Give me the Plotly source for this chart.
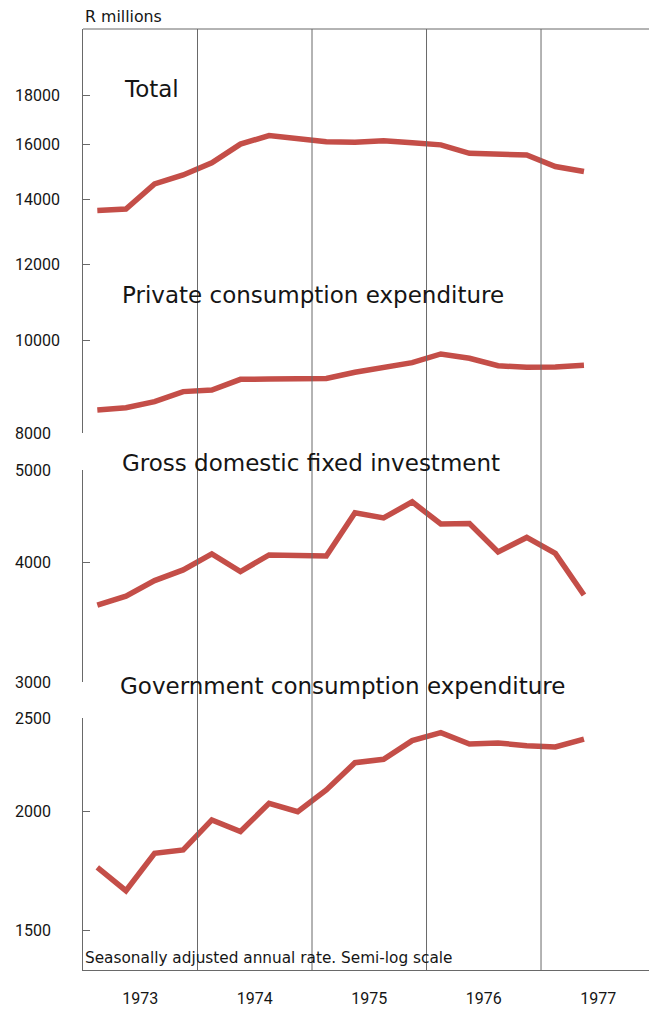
import numpy as np
import plotly.graph_objects as go

# ---------------- data ----------------
quarters = ["1973Q1", "1973Q2", "1973Q3", "1973Q4",
            "1974Q1", "1974Q2", "1974Q3", "1974Q4",
            "1975Q1", "1975Q2", "1975Q3", "1975Q4",
            "1976Q1", "1976Q2", "1976Q3", "1976Q4",
            "1977Q1", "1977Q2"]

total = [13640, 13690, 14540, 14860, 15300, 16000, 16330, 16220, 16090,
         16070, 16130, 16050, 15970, 15650, 15620, 15590, 15160, 14980]
private_consumption = [8455, 8500, 8625, 8835, 8870, 9100, 9105, 9120, 9120,
                       9255, 9360, 9470, 9670, 9570, 9400, 9365, 9375, 9410]
gross_fixed_investment = [3610, 3690, 3830, 3930, 4085, 3915, 4075, 4065, 4065,
                          4510, 4455, 4630, 4390, 4395, 4105, 4250, 4090, 3700]
government_consumption = [1747, 1652, 1807, 1822, 1958, 1904, 2037, 1997, 2104,
                          2246, 2264, 2368, 2414, 2349, 2355, 2339, 2332, 2377]

year_boundaries = [1974, 1975, 1976, 1977]
year_labels = ["1973", "1974", "1975", "1976", "1977"]

ticks_upper = [18000, 16000, 14000, 12000, 10000, 8000]
ticks_investment = [5000, 4000, 3000]
ticks_government = [2500, 2000, 1500]

panel_titles = ["Total", "Private consumption expenditure",
                "Gross domestic fixed investment",
                "Government consumption expenditure"]

# ---------------- helpers ----------------
def q_to_x(q):
    y, n = q.split("Q")
    return int(y) + (int(n) - 0.5) / 4.0

xq = [q_to_x(q) for q in quarters]
year_centres = [int(y) + 0.5 for y in year_labels]

W, H = 649, 1009
ML, MR, MT, MB = 83, 0, 29, 39
PH = H - MT - MB

def py(pix):
    return (H - MB - pix) / PH

def px(pix):
    return (pix - ML) / (W - ML - MR)

LINE = "rgb(196,78,72)"
GRID = "rgb(105,105,105)"
TXT = "#151515"
LABEL_FONT = "DejaVu Sans"
NUM_FONT = "Roboto, Liberation Sans, sans-serif"

fig = go.Figure()
for vals, ax in [(total, "y"), (private_consumption, "y"),
                 (gross_fixed_investment, "y2"), (government_consumption, "y3")]:
    fig.add_trace(go.Scatter(x=xq, y=vals, xaxis="x", yaxis=ax, mode="lines",
                             line=dict(color=LINE, width=5.5),
                             showlegend=False, hoverinfo="x+y"))

yax_common = dict(type="log", showgrid=False, zeroline=False, showline=True,
                  linecolor=GRID, linewidth=1, ticks="inside", ticklen=7,
                  tickcolor=GRID, tickwidth=1, showticklabels=False,
                  anchor="x", fixedrange=True)

fig.update_layout(
    width=W, height=H,
    margin=dict(l=ML, r=MR, t=MT, b=MB),
    paper_bgcolor="white", plot_bgcolor="white",
    xaxis=dict(range=[1973, 1977.943], showgrid=False, zeroline=False,
               showline=True, linecolor=GRID, linewidth=1, anchor="y3",
               tickvals=year_centres, ticktext=year_labels, ticks="",
               tickfont=dict(family=NUM_FONT, size=16, color=TXT),
               ticklabelstandoff=14, fixedrange=True),
    yaxis=dict(domain=[py(433), 1.0],
               range=[np.log10(8000), np.log10(21089)],
               tickvals=ticks_upper, **yax_common),
    yaxis2=dict(domain=[py(682), py(470)],
                range=[np.log10(3000), np.log10(5000)],
                tickvals=ticks_investment, **yax_common),
    yaxis3=dict(domain=[0, py(718)],
                range=[np.log10(1366), np.log10(2500)],
                tickvals=ticks_government, **yax_common),
)

# vertical year lines and top border
for yb in year_boundaries:
    fig.add_shape(type="line", xref="x", yref="paper", x0=yb, x1=yb, y0=0, y1=1,
                  line=dict(color=GRID, width=1))
fig.add_shape(type="line", xref="paper", yref="paper", x0=0, x1=1, y0=1, y1=1,
              line=dict(color=GRID, width=1))

# y tick labels (left aligned)
for ticks, ref in [(ticks_upper, "y"), (ticks_investment, "y2"), (ticks_government, "y3")]:
    for t in ticks:
        fig.add_annotation(text=f"{t}", xref="paper", x=px(13), xanchor="left",
                           yref=ref, y=float(np.log10(t)), yanchor="middle",
                           showarrow=False,
                           font=dict(family=NUM_FONT, size=16, color=TXT))

# panel titles
title_pos = [(122, 89), (120, 295), (120, 463), (118, 686)]
for t, (xx, yy) in zip(panel_titles, title_pos):
    fig.add_annotation(text=t, xref="paper", x=px(xx), xanchor="left",
                       yref="paper", y=py(yy), yanchor="middle", showarrow=False,
                       font=dict(family=LABEL_FONT, size=23, color=TXT))

fig.add_annotation(text="R millions", xref="paper", x=px(83), xanchor="left",
                   yref="paper", y=py(17), yanchor="middle", showarrow=False,
                   font=dict(family=LABEL_FONT, size=15.8, color=TXT))
fig.add_annotation(text="Seasonally adjusted annual rate. Semi-log scale",
                   xref="paper", x=px(83), xanchor="left",
                   yref="paper", y=py(958), yanchor="middle", showarrow=False,
                   font=dict(family=LABEL_FONT, size=15.3, color=TXT))

fig.write_html("out.html", config={"displayModeBar": False},
               post_script="document.body.style.margin='0px';")
